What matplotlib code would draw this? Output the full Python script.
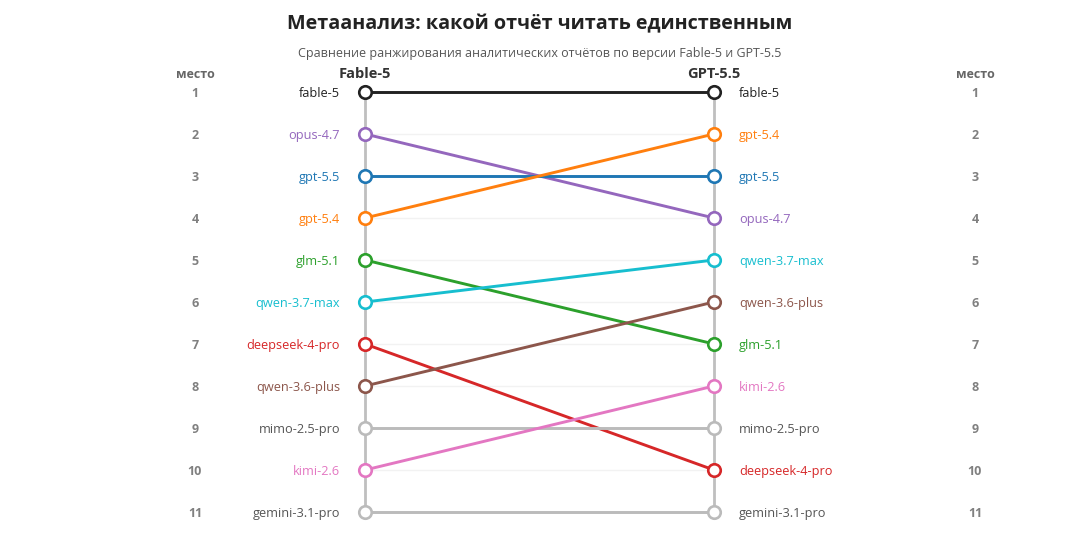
import matplotlib
matplotlib.use("Agg")
import matplotlib.pyplot as plt

plt.rcParams['font.family'] = ['Open Sans', 'DejaVu Sans']

models = ["fable-5", "opus-4.7", "gpt-5.5", "gpt-5.4", "glm-5.1", "qwen-3.7-max",
          "deepseek-4-pro", "qwen-3.6-plus", "mimo-2.5-pro", "kimi-2.6", "gemini-3.1-pro"]
rank_fable = [1, 2, 3, 4, 5, 6, 7, 8, 9, 10, 11]
rank_gpt = [1, 4, 3, 2, 7, 5, 10, 6, 9, 8, 11]
colors = ["#222222", "#9467bd", "#1f77b4", "#ff7f0e", "#2ca02c", "#17becf",
          "#d62728", "#8c564b", "#bbbbbb", "#e377c2", "#bbbbbb"]
label_colors = ["#222222", "#9467bd", "#1f77b4", "#ff7f0e", "#2ca02c", "#17becf",
                "#d62728", "#8c564b", "#555555", "#e377c2", "#555555"]
columns = ["Fable-5", "GPT-5.5"]
title = "Метаанализ: какой отчёт читать единственным"
subtitle = "Сравнение ранжирования аналитических отчётов по версии Fable-5 и GPT-5.5"

W, H = 1080, 550
fig = plt.figure(figsize=(W / 100, H / 100), dpi=100)
x0, x1, ytop, ybot = 365, 714, 92, 512
ax = fig.add_axes([x0 / W, 1 - ybot / H, (x1 - x0) / W, (ybot - ytop) / H])
ax.set_xlim(0, 1)
ax.set_ylim(11, 1)
ax.axis("off")

n = len(models)
# faint gridlines
for r in range(1, n + 1):
    ax.plot([0, 1], [r, r], color="#f2f2f2", lw=1, zorder=0)
# vertical axes
ax.plot([0, 0], [1, n + 0.15], color="#bfbfbf", lw=2, zorder=1, clip_on=False)
ax.plot([1, 1], [1, n + 0.15], color="#bfbfbf", lw=2, zorder=1, clip_on=False)

dy = -0.8
for m, a, b, c, lc in zip(models, rank_fable, rank_gpt, colors, label_colors):
    ax.plot([0, 1], [a, b], color=c, lw=2.1, zorder=3, solid_capstyle="butt",
            marker="o", markersize=9, markerfacecolor="white", markeredgecolor=c,
            markeredgewidth=1.9, clip_on=False)
    ax.annotate(m, (0, a), xytext=(-18, dy), textcoords="offset points",
                ha="right", va="center", fontsize=9.2, color=lc)
    ax.annotate(m, (1, b), xytext=(18, dy), textcoords="offset points",
                ha="left", va="center", fontsize=9.2, color=lc)

xl = (195 - x0) / (x1 - x0)
xr = (975 - x0) / (x1 - x0)
for r in range(1, n + 1):
    for xx in (xl, xr):
        ax.annotate(str(r), (xx, r), xytext=(0, dy), textcoords="offset points",
                    ha="center", va="center", fontsize=9, color="#808080",
                    fontweight="bold", annotation_clip=False)

hdr_y = 1 - (92 - 73) / 42
for xx in (xl, xr):
    ax.annotate("место", (xx, hdr_y), xytext=(0, dy), textcoords="offset points",
                ha="center", va="center", fontsize=9, color="#666666",
                fontweight="bold", annotation_clip=False)
for xx, col in zip((0, 1), columns):
    ax.annotate(col, (xx, hdr_y), xytext=(0, dy), textcoords="offset points",
                ha="center", va="center", fontsize=10.5, color="#333333",
                fontweight="bold", annotation_clip=False)

fig.text(540 / W, 1 - 24.5 / H, title, ha="center", va="center", fontsize=14.2,
         fontweight="bold", color="#222222")
fig.text(540 / W, 1 - 53.5 / H, subtitle, ha="center", va="center", fontsize=9,
         color="#555555")

fig.savefig("out.png", dpi=100, facecolor="white")
